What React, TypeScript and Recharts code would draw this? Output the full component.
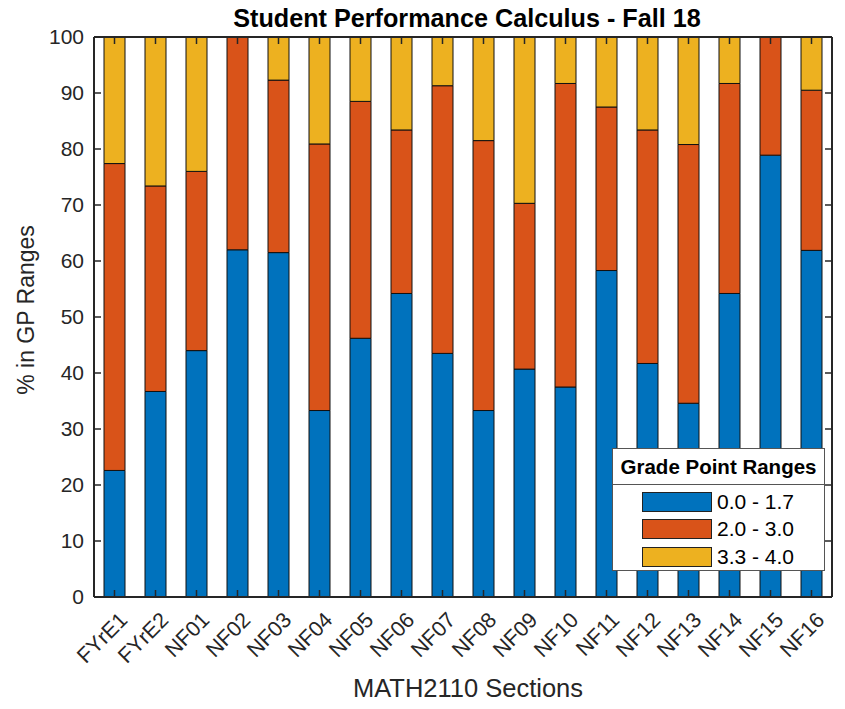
import React from "react";
import { BarChart, Bar, XAxis, YAxis } from "recharts";

const categories = ["FYrE1","FYrE2","NF01","NF02","NF03","NF04","NF05","NF06","NF07","NF08","NF09","NF10","NF11","NF12","NF13","NF14","NF15","NF16"];
const low = [22.6,36.7,44.0,62.0,61.5,33.3,46.2,54.2,43.5,33.3,40.7,37.5,58.3,41.7,34.6,54.2,78.9,61.9];
const mid = [54.8,36.7,32.0,38.0,30.8,47.6,42.3,29.2,47.8,48.2,29.6,54.2,29.2,41.7,46.2,37.5,21.1,28.6];
const high = [22.6,26.6,24.0,0,7.7,19.1,11.5,16.7,8.7,18.5,29.7,8.3,12.5,16.6,19.2,8.3,0,9.5];
const yTicks = [0,10,20,30,40,50,60,70,80,90,100];
const seriesNames = ["0.0 - 1.7","2.0 - 3.0","3.3 - 4.0"];
const seriesColors = ["#0072BD","#D95319","#EDB120"];

const data = categories.map((c, i) => ({ name: c, low: low[i], mid: mid[i], high: high[i] }));

const FONT = "'Liberation Sans', Arial, Helvetica, sans-serif";
const AX = "#262626";

const LeftTick = (p: any) => (
  <g>
    <line x1={p.x} y1={p.y} x2={p.x + 7} y2={p.y} stroke={AX} strokeWidth={1.5} />
    <text x={p.x - 10} y={p.y} dy="0.35em" textAnchor="end" fontSize={21} fontFamily={FONT} fill={AX}>{p.payload.value}</text>
  </g>
);
const RightTick = (p: any) => (
  <line x1={p.x} y1={p.y} x2={p.x - 7} y2={p.y} stroke={AX} strokeWidth={1.5} />
);
const BottomTick = (p: any) => (
  <g>
    <line x1={p.x} y1={p.y} x2={p.x} y2={p.y - 7} stroke={AX} strokeWidth={1.5} />
    <text x={p.x + 9} y={p.y + 19} dy="0.35em" textAnchor="end" fontSize={21.5} fontFamily={FONT} fill={AX}
      transform={`rotate(-45, ${p.x + 9}, ${p.y + 19})`}>{p.payload.value}</text>
  </g>
);
const TopTick = (p: any) => (
  <line x1={p.x} y1={p.y} x2={p.x} y2={p.y + 7} stroke={AX} strokeWidth={1.5} />
);

const LegendBox = () => (
  <div style={{ position: "absolute", left: 612, top: 448, width: 213, height: 123, border: "1px solid #555", background: "#fff", fontFamily: FONT, boxSizing: "border-box" }}>
    <div style={{ height: 35, borderBottom: "1px solid #555", fontWeight: "bold", fontSize: 20.5, textAlign: "center", lineHeight: "35px", color: "#000", whiteSpace: "nowrap" }}>Grade Point Ranges</div>
    {seriesNames.map((n, i) => (
      <div key={n} style={{ display: "flex", alignItems: "center", height: 27.5, marginTop: i === 0 ? 3 : 0 }}>
        <div style={{ marginLeft: 29, width: 70, height: 20, boxSizing: "border-box", background: seriesColors[i], border: "1px solid #222" }} />
        <span style={{ marginLeft: 5, fontSize: 21, color: "#000" }}>{n}</span>
      </div>
    ))}
  </div>
);

export default function App() {
  return (
    <div style={{ position: "absolute", left: 0, top: 0, width: 845, height: 709, background: "#fff" }}>
      <BarChart width={845} height={709} data={data} margin={{ top: 36, right: 12, bottom: 0, left: 93 }} barCategoryGap={0}>
        <XAxis dataKey="name" xAxisId="b" orientation="bottom" height={112} interval={0} tickSize={0} tickMargin={0}
          tick={<BottomTick />} axisLine={{ stroke: AX, strokeWidth: 2 }} tickLine={false} />
        <XAxis dataKey="name" xAxisId="t" orientation="top" height={1} interval={0} tickSize={0} tickMargin={0}
          tick={<TopTick />} axisLine={{ stroke: AX, strokeWidth: 2 }} tickLine={false} />
        <YAxis yAxisId="l" orientation="left" width={1} domain={[0, 100]} ticks={yTicks} interval={0} tickSize={0} tickMargin={0}
          tick={<LeftTick />} axisLine={{ stroke: AX, strokeWidth: 2 }} tickLine={false} allowDataOverflow />
        <YAxis yAxisId="r" orientation="right" width={1} domain={[0, 100]} ticks={yTicks} interval={0} tickSize={0} tickMargin={0}
          tick={<RightTick />} axisLine={{ stroke: AX, strokeWidth: 2 }} tickLine={false} allowDataOverflow />
        <Bar dataKey="low" name={seriesNames[0]} stackId="s" xAxisId="b" yAxisId="l" fill={seriesColors[0]} stroke="#111" strokeWidth={1} barSize={21} isAnimationActive={false} />
        <Bar dataKey="mid" name={seriesNames[1]} stackId="s" xAxisId="b" yAxisId="l" fill={seriesColors[1]} stroke="#111" strokeWidth={1} barSize={21} isAnimationActive={false} />
        <Bar dataKey="high" name={seriesNames[2]} stackId="s" xAxisId="b" yAxisId="l" fill={seriesColors[2]} stroke="#111" strokeWidth={1} barSize={21} isAnimationActive={false} />
        <text x={467} y={20} textAnchor="middle" dominantBaseline="middle" fontSize={25.2} fontWeight="bold" fontFamily={FONT} fill="#000">Student Performance Calculus - Fall 18</text>
        <text x={468} y={690} textAnchor="middle" dominantBaseline="middle" fontSize={25.5} fontFamily={FONT} fill={AX}>MATH2110 Sections</text>
        <text x={28} y={310} textAnchor="middle" dominantBaseline="middle" fontSize={23} fontFamily={FONT} fill={AX} transform="rotate(-90, 28, 310)">% in GP Ranges</text>
      </BarChart>
      <LegendBox />
    </div>
  );
}
